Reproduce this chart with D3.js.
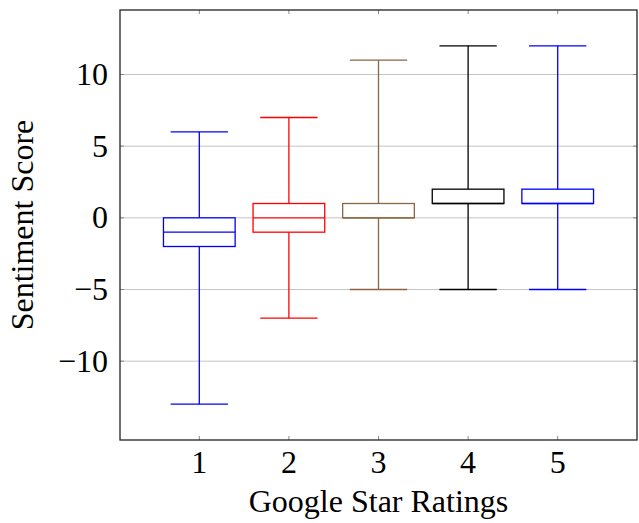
<!DOCTYPE html>
<html>
<head>
<meta charset="utf-8">
<script src="https://cdn.jsdelivr.net/npm/d3@7"></script>
<style>
  body { margin: 0; background: #fff; }
  svg { display: block; }
  svg text { font-family: "Liberation Serif", "Times New Roman", Times, "DejaVu Serif", serif; font-size: 32px; fill: #000; }
</style>
</head>
<body>
<script>
// box plot data, one entry per star rating
const ratings = [1, 2, 3, 4, 5];
const whiskerLow  = [-13, -7, -5, -5, -5];
const lowerQ      = [-2, -1, 0, 1, 1];
const medians     = [-1, 0, 0, 1, 1];
const upperQ      = [0, 1, 1, 2, 2];
const whiskerHigh = [6, 7, 11, 12, 12];
const boxColors   = ["#0000ff", "#ff0000", "#8f6440", "#000000", "#0000ff"];
const yTicks = [-10, -5, 0, 5, 10];

const width = 639, height = 523;
const margin = {top: 10, right: 2, bottom: 83, left: 120};

const svg = d3.select("body").append("svg")
    .attr("width", width)
    .attr("height", height);

const x = d3.scaleLinear()
    .domain([0.115, 5.885])
    .range([margin.left, width - margin.right]);

const y = d3.scaleLinear()
    .domain([-15.5, 14.5])
    .range([height - margin.bottom, margin.top]);

const x0 = x.range()[0], x1 = x.range()[1];
const y0 = y.range()[0], y1 = y.range()[1];

// horizontal grid
svg.append("g").selectAll("line")
    .data(yTicks)
    .join("line")
    .attr("x1", x0).attr("x2", x1)
    .attr("y1", d => y(d)).attr("y2", d => y(d))
    .attr("stroke", "#c4c4c4")
    .attr("stroke-width", 1);

// tick marks inside the frame, all four sides
const tickLen = 4;
const ticks = svg.append("g").attr("stroke", "#888").attr("stroke-width", 1);
ratings.forEach(r => {
    ticks.append("line").attr("x1", x(r)).attr("x2", x(r)).attr("y1", y0).attr("y2", y0 - tickLen);
    ticks.append("line").attr("x1", x(r)).attr("x2", x(r)).attr("y1", y1).attr("y2", y1 + tickLen);
});
yTicks.forEach(t => {
    ticks.append("line").attr("x1", x0).attr("x2", x0 + tickLen).attr("y1", y(t)).attr("y2", y(t));
    ticks.append("line").attr("x1", x1).attr("x2", x1 - tickLen).attr("y1", y(t)).attr("y2", y(t));
});

// boxes
const boxW = 0.8, capW = 0.64;
const data = ratings.map((r, i) => ({
    r: r, lo: whiskerLow[i], q1: lowerQ[i], med: medians[i],
    q3: upperQ[i], hi: whiskerHigh[i], color: boxColors[i]
}));

const boxes = svg.append("g").selectAll("g")
    .data(data)
    .join("g")
    .attr("stroke", d => d.color)
    .attr("stroke-width", 1.3)
    .attr("fill", "none");

// whiskers
boxes.append("line")
    .attr("x1", d => x(d.r)).attr("x2", d => x(d.r))
    .attr("y1", d => y(d.q3)).attr("y2", d => y(d.hi));
boxes.append("line")
    .attr("x1", d => x(d.r)).attr("x2", d => x(d.r))
    .attr("y1", d => y(d.q1)).attr("y2", d => y(d.lo));
boxes.append("line")
    .attr("x1", d => x(d.r - capW / 2)).attr("x2", d => x(d.r + capW / 2))
    .attr("y1", d => y(d.hi)).attr("y2", d => y(d.hi));
boxes.append("line")
    .attr("x1", d => x(d.r - capW / 2)).attr("x2", d => x(d.r + capW / 2))
    .attr("y1", d => y(d.lo)).attr("y2", d => y(d.lo));
// box + median
boxes.append("rect")
    .attr("x", d => x(d.r - boxW / 2))
    .attr("width", d => x(d.r + boxW / 2) - x(d.r - boxW / 2))
    .attr("y", d => y(d.q3))
    .attr("height", d => y(d.q1) - y(d.q3))
    .attr("fill", "#fff");
boxes.append("line")
    .attr("x1", d => x(d.r - boxW / 2)).attr("x2", d => x(d.r + boxW / 2))
    .attr("y1", d => y(d.med)).attr("y2", d => y(d.med));

// frame
svg.append("rect")
    .attr("x", x0).attr("y", y1)
    .attr("width", x1 - x0).attr("height", y0 - y1)
    .attr("fill", "none")
    .attr("stroke", "#222")
    .attr("stroke-width", 1.3);

// tick labels
svg.append("g").selectAll("text")
    .data(ratings)
    .join("text")
    .attr("x", d => x(d))
    .attr("y", 473)
    .attr("text-anchor", "middle")
    .text(d => d);

svg.append("g").selectAll("text")
    .data(yTicks)
    .join("text")
    .attr("x", 108)
    .attr("y", d => y(d))
    .attr("dy", "0.33em")
    .attr("text-anchor", "end")
    .text(d => d < 0 ? "\u2212" + Math.abs(d) : d);

// axis titles
svg.append("text")
    .attr("x", (x0 + x1) / 2)
    .attr("y", 512)
    .attr("text-anchor", "middle")
    .text("Google Star Ratings");

svg.append("text")
    .attr("transform", `translate(33, ${(y0 + y1) / 2}) rotate(-90)`)
    .attr("text-anchor", "middle")
    .text("Sentiment Score");
</script>
</body>
</html>
